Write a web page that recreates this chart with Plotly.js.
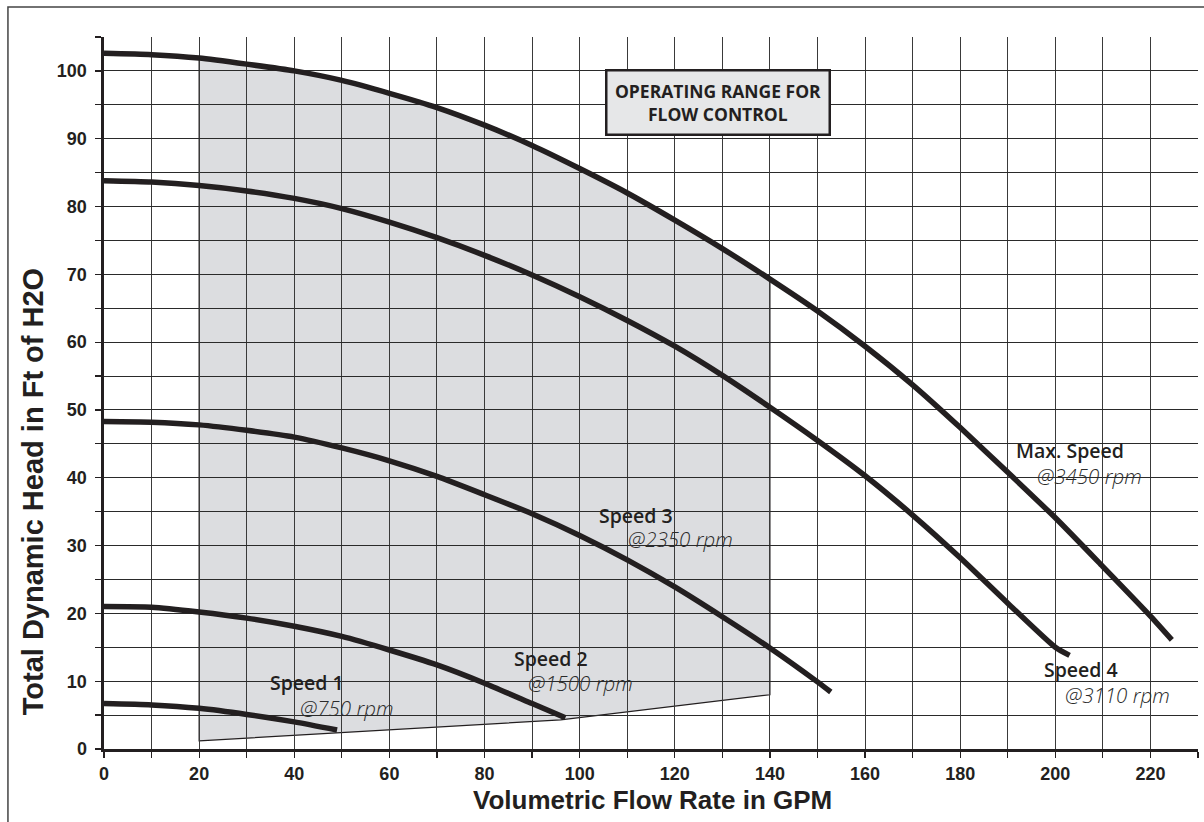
<!DOCTYPE html>
<html><head><meta charset="utf-8">
<script src="https://cdn.plot.ly/plotly-3.0.1.min.js"></script>
<style>html,body{margin:0;padding:0;background:#fff}#chart{width:1204px;height:822px}</style>
</head><body><div id="chart"></div>
<script>
// Pump curves: flow (GPM) vs total dynamic head (ft of H2O)
const flowMax   = [0,10,20,30,40,50,60,70,80,90,100,110,120,130,140,150,160,170,180,190,200,210,220,224.5];
const headMax   = [102.6,102.4,101.9,101.0,100.0,98.6,96.7,94.6,92.0,89.0,85.6,82.0,78.0,73.8,69.3,64.6,59.4,53.7,47.4,40.8,34.1,26.9,19.6,16.1];
const flowS4    = [0,10,20,30,40,50,60,70,80,90,100,110,120,130,140,150,160,170,180,190,200,203];
const headS4    = [83.8,83.6,83.1,82.3,81.2,79.7,77.7,75.4,72.8,69.9,66.7,63.2,59.4,55.1,50.4,45.5,40.3,34.5,28.2,21.5,15.0,13.8];
const flowS3    = [0,10,20,30,40,50,60,70,80,90,100,110,120,130,140,150,152.8];
const headS3    = [48.3,48.2,47.8,47.0,46.0,44.4,42.5,40.2,37.5,34.7,31.5,27.9,23.9,19.5,14.9,9.9,8.4];
const flowS2    = [0,10,20,30,40,50,60,70,80,90,97];
const headS2    = [21.0,20.9,20.2,19.3,18.1,16.6,14.6,12.4,9.7,6.7,4.6];
const flowS1    = [0,10,20,30,40,49];
const headS1    = [6.7,6.5,6.0,5.1,4.0,2.8];
// Operating range (shaded) lower boundary and limits
const rangeLowFlow = [20,96,140];
const rangeLowHead = [1.2,4.3,8.0];
const rangeMinFlow = 20, rangeMaxFlow = 140;

// Labels
const curveNames  = ['Speed 1','Speed 2','Speed 3','Max. Speed','Speed 4'];
const curveRpm    = ['@750 rpm','@1500 rpm','@2350 rpm','@3450 rpm','@3110 rpm'];
const nameFlow    = [34.4,85.7,103.7,191.4,197.2];
const nameHead    = [9.75,13.3,34.4,44.0,11.7];
const rpmFlow     = [40.7,88.8,109.7,195.7,201.6];
const rpmHead     = [6.1,9.8,30.9,40.3,8.0];
const boxText     = 'OPERATING RANGE FOR<br>FLOW CONTROL';
const xTitle      = 'Volumetric Flow Rate in GPM';
const yTitle      = 'Total Dynamic Head in Ft of H2O';

const ink = '#231f20';
function curve(x, y){
  return {x:x, y:y, type:'scatter', mode:'lines', hoverinfo:'skip', showlegend:false,
          line:{color:ink, width:5.5, shape:'spline', smoothing:0.6}};
}
const traces = [curve(flowS1,headS1), curve(flowS2,headS2), curve(flowS3,headS3),
                curve(flowS4,headS4), curve(flowMax,headMax)];

// shaded operating-range polygon built from the arrays
let path = 'M ' + rangeLowFlow[0] + ',' + rangeLowHead[0];
for (let i = 1; i < rangeLowFlow.length; i++) path += ' L ' + rangeLowFlow[i] + ',' + rangeLowHead[i];
const topIdx = [];
for (let i = 0; i < flowMax.length; i++) if (flowMax[i] >= rangeMinFlow && flowMax[i] <= rangeMaxFlow) topIdx.push(i);
for (let k = topIdx.length - 1; k >= 0; k--) path += ' L ' + flowMax[topIdx[k]] + ',' + headMax[topIdx[k]];
path += ' Z';

const annotations = [];
for (let i = 0; i < curveNames.length; i++) {
  annotations.push({x:nameFlow[i], y:nameHead[i], xref:'x', yref:'y', text:curveNames[i], showarrow:false,
    xanchor:'left', yanchor:'middle', font:{family:'Open Sans', size:19.5, color:ink, weight:600}});
  annotations.push({x:rpmFlow[i], y:rpmHead[i], xref:'x', yref:'y', text:curveRpm[i], showarrow:false,
    xanchor:'left', yanchor:'middle', font:{family:'Open Sans', size:20.5, color:'#2a2a2a', style:'italic', weight:300}});
}
annotations.push({x:129.1, y:95.4, xref:'x', yref:'y', text:boxText, showarrow:false, align:'center',
  width:221, height:62, borderpad:0, borderwidth:2.5, bordercolor:ink, bgcolor:'#e6e7e8',
  font:{family:'Open Sans', size:17.5, color:ink, weight:700}});
annotations.push({x:0.5014, y:-0.0716, xref:'paper', yref:'paper', text:xTitle, showarrow:false,
  xanchor:'center', yanchor:'middle', font:{family:'Liberation Sans, Arial', size:26, color:ink, weight:700}});
annotations.push({x:-0.0649, y:0.362, xref:'paper', yref:'paper', text:yTitle, showarrow:false, textangle:-90,
  xanchor:'center', yanchor:'middle', font:{family:'Liberation Sans, Arial', size:29, color:ink, weight:700}});

const tickFont = {family:'Liberation Sans, Arial', size:18, color:ink, weight:700};
const layout = {
  width:1204, height:822,
  margin:{l:104, r:6, t:37, b:73},
  paper_bgcolor:'#ffffff', plot_bgcolor:'#ffffff',
  xaxis:{range:[0,230], dtick:20, tick0:0, showgrid:true, gridcolor:'#3a3a3a', gridwidth:1,
         zeroline:false, showline:true, linecolor:ink, linewidth:3,
         ticks:'outside', ticklen:6, tickwidth:1.2, tickcolor:ink, tickfont:tickFont,
         minor:{dtick:10, tick0:0, showgrid:true, gridcolor:'#3a3a3a', gridwidth:1, ticks:'outside', ticklen:6, tickcolor:ink, tickwidth:1.2},
         fixedrange:true},
  yaxis:{range:[0,105], dtick:10, tick0:0, showgrid:true, gridcolor:'#2a2a2a', gridwidth:1,
         zeroline:false, showline:true, linecolor:ink, linewidth:3.5,
         ticks:'outside', ticklen:6, tickwidth:1.2, tickcolor:ink, tickfont:tickFont, ticklabelstandoff:4,
         minor:{dtick:5, tick0:0, showgrid:true, gridcolor:'#2a2a2a', gridwidth:1, ticks:'outside', ticklen:6, tickcolor:ink, tickwidth:1.2},
         fixedrange:true},
  shapes:[
    {type:'path', path:path, xref:'x', yref:'y', layer:'below', fillcolor:'#dcdde0', line:{color:ink, width:1.2}},
    {type:'rect', xref:'paper', yref:'paper', x0:-0.0878, x1:1.2, y0:1.042, y1:-0.3, line:{color:'#444', width:1.5}, layer:'above'}
  ],
  annotations:annotations,
  showlegend:false
};
Plotly.newPlot('chart', traces, layout, {displayModeBar:false, staticPlot:true});
</script></body></html>
